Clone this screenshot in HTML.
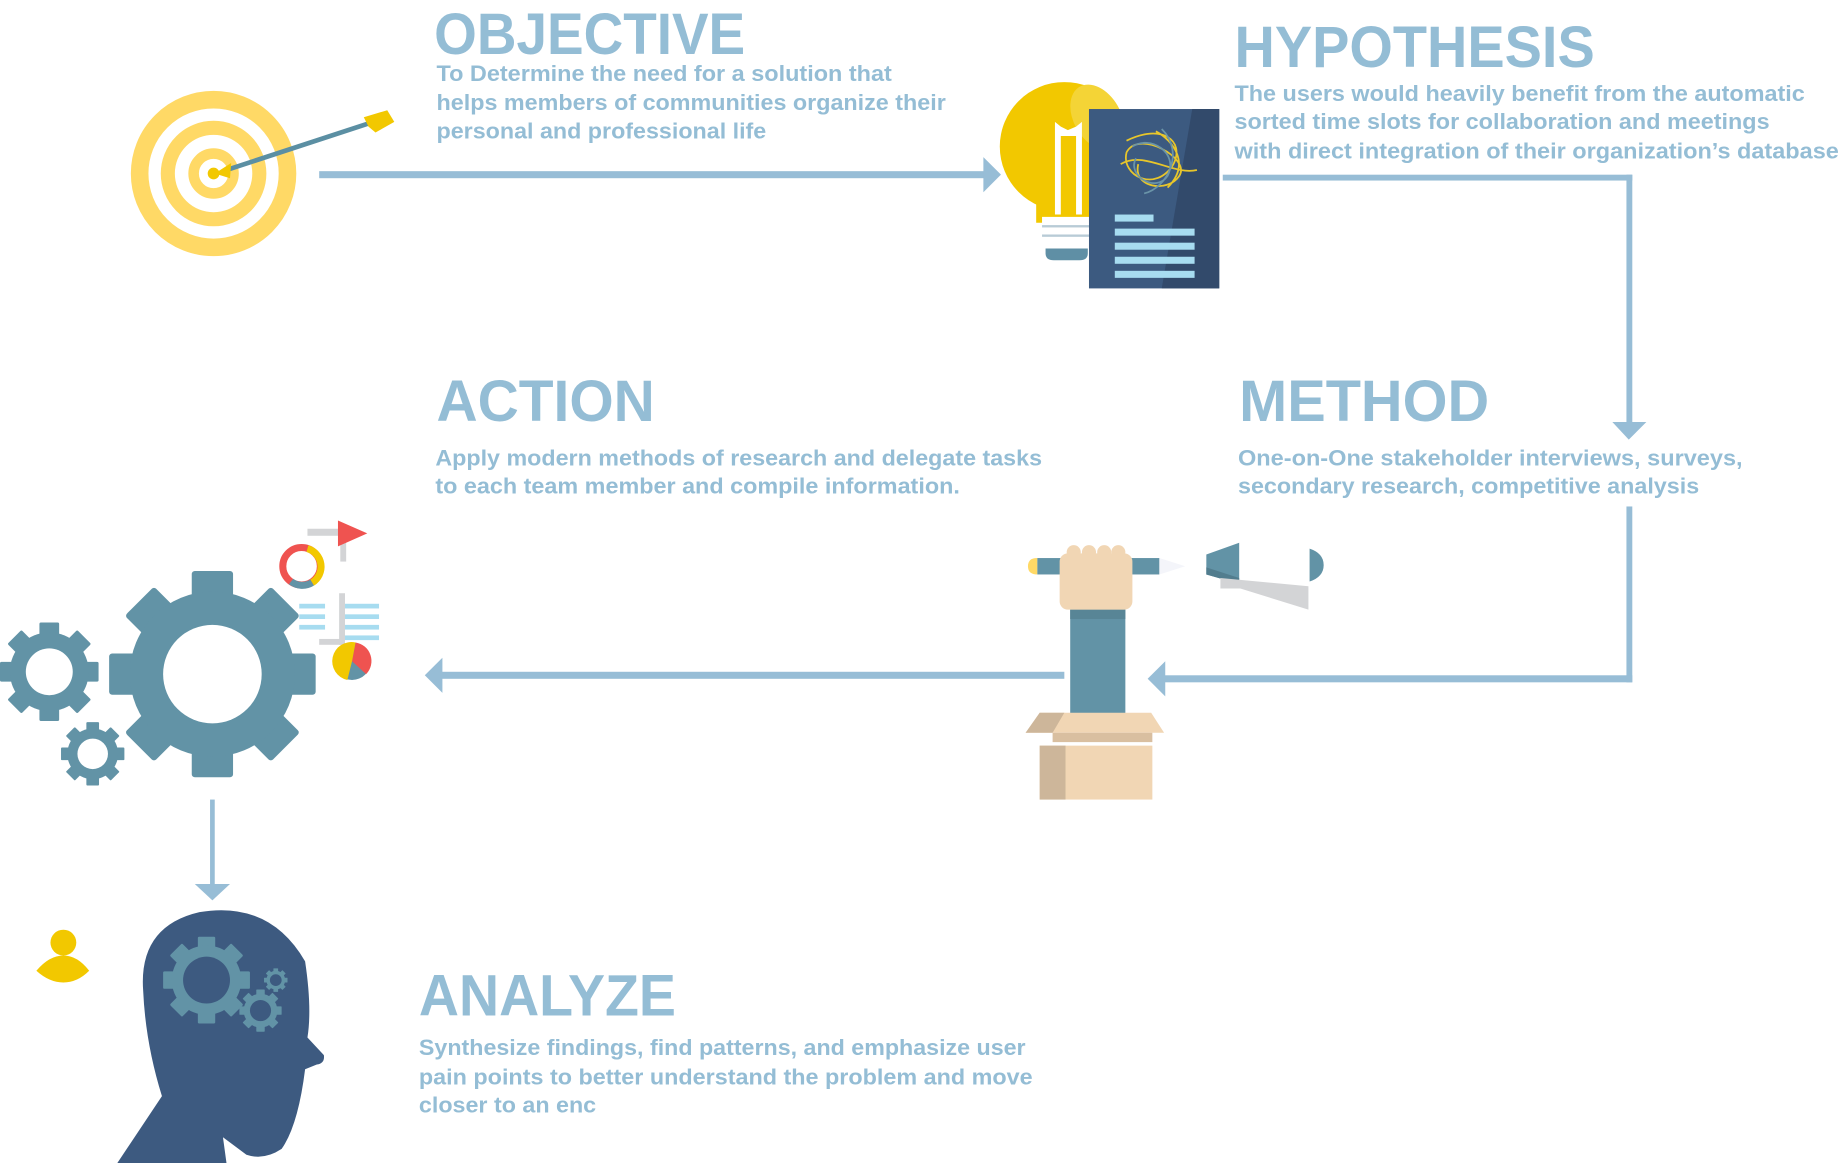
<!DOCTYPE html>
<html><head><meta charset="utf-8"><style>
html,body{margin:0;padding:0;background:#fff;}
svg{display:block;}
.h{font-family:"Liberation Sans Narrow","Liberation Sans",sans-serif;font-weight:bold;fill:#94bdd5;}
.t{font-family:"Liberation Sans Narrow","Liberation Sans",sans-serif;font-weight:bold;fill:#94bdd5;font-size:19px;}
</style></head><body>
<svg width="1840" height="1163" viewBox="0 0 1568 992" preserveAspectRatio="none" xmlns="http://www.w3.org/2000/svg">
<defs>
<g id="gear8">
  <rect x="-0.2" y="-1" width="0.4" height="2" rx="0.03"/>
  <rect x="-0.2" y="-1" width="0.4" height="2" rx="0.03" transform="rotate(45)"/>
  <rect x="-0.2" y="-1" width="0.4" height="2" rx="0.03" transform="rotate(90)"/>
  <rect x="-0.2" y="-1" width="0.4" height="2" rx="0.03" transform="rotate(135)"/>
  <circle r="0.8"/>
</g>
<clipPath id="bigc"><use href="#gear8" transform="translate(181,575) scale(88)"/></clipPath>
</defs>
<rect width="1568" height="992" fill="#fff"/>

<!-- Texts -->
<text class="h" x="370" y="46" font-size="50" textLength="265" lengthAdjust="spacingAndGlyphs">OBJECTIVE</text>
<text class="t" x="372" y="69" textLength="388" lengthAdjust="spacingAndGlyphs">To Determine the need for a solution that</text>
<text class="t" x="372" y="94" textLength="434" lengthAdjust="spacingAndGlyphs">helps members of communities organize their</text>
<text class="t" x="372" y="118" textLength="281" lengthAdjust="spacingAndGlyphs">personal and professional life</text>

<text class="h" x="1052" y="57" font-size="50" textLength="307" lengthAdjust="spacingAndGlyphs">HYPOTHESIS</text>
<text class="t" x="1052" y="86" textLength="486" lengthAdjust="spacingAndGlyphs">The users would heavily benefit from the automatic</text>
<text class="t" x="1052" y="110" textLength="456" lengthAdjust="spacingAndGlyphs">sorted time slots for collaboration and meetings</text>
<text class="t" x="1052" y="135" textLength="515" lengthAdjust="spacingAndGlyphs">with direct integration of their organization’s database</text>

<text class="h" x="372" y="359" font-size="50" textLength="186" lengthAdjust="spacingAndGlyphs">ACTION</text>
<text class="t" x="371" y="397" textLength="517" lengthAdjust="spacingAndGlyphs">Apply modern methods of research and delegate tasks</text>
<text class="t" x="371" y="421" textLength="447" lengthAdjust="spacingAndGlyphs">to each team member and compile information.</text>

<text class="h" x="1056" y="359" font-size="50" textLength="213" lengthAdjust="spacingAndGlyphs">METHOD</text>
<text class="t" x="1055" y="397" textLength="430" lengthAdjust="spacingAndGlyphs">One-on-One stakeholder interviews, surveys,</text>
<text class="t" x="1055" y="421" textLength="393" lengthAdjust="spacingAndGlyphs">secondary research, competitive analysis</text>

<text class="h" x="357" y="866" font-size="50" textLength="219" lengthAdjust="spacingAndGlyphs">ANALYZE</text>
<text class="t" x="357" y="900" textLength="517" lengthAdjust="spacingAndGlyphs">Synthesize findings, find patterns, and emphasize user</text>
<text class="t" x="357" y="925" textLength="523" lengthAdjust="spacingAndGlyphs">pain points to better understand the problem and move</text>
<text class="t" x="357" y="949" textLength="151" lengthAdjust="spacingAndGlyphs">closer to an enc</text>

<!-- Connectors -->
<g fill="#97bdd6" stroke="none">
  <rect x="272" y="146" width="570" height="6"/>
  <polygon points="838,134 853,149 838,164"/>
  <rect x="1042" y="149" width="349" height="5"/>
  <rect x="1386" y="149" width="5" height="215"/>
  <polygon points="1374,360 1403,360 1388,375"/>
  <rect x="1386" y="432" width="5" height="150"/>
  <rect x="990" y="576" width="401" height="6"/>
  <polygon points="993,564 978,579 993,594"/>
  <rect x="375" y="573" width="532" height="6"/>
  <polygon points="377,561 362,576 377,591"/>
  <rect x="179" y="682" width="4" height="75"/>
  <polygon points="166,754 196,754 181,768"/>
</g>

<!-- Target -->
<g fill="none" stroke="#ffd966">
  <circle cx="182" cy="148" r="63" stroke-width="15"/>
  <circle cx="182" cy="148" r="39" stroke-width="12"/>
  <circle cx="182" cy="148" r="17" stroke-width="9"/>
</g>
<circle cx="182" cy="148" r="5" fill="#f2c800"/>
<line x1="190" y1="146" x2="318" y2="104" stroke="#5b8fa3" stroke-width="4"/>
<polygon points="183,148 197,139 196,152" fill="#f2c800"/>
<polygon points="310,100 330,94 336,104 320,113 314,108" fill="#f2c800"/>

<!-- Bulb + doc -->
<circle cx="907" cy="125" r="55" fill="#f2c800"/>
<ellipse cx="935" cy="100" rx="20" ry="30" fill="#f4d436" transform="rotate(-30 935 100)"/>
<rect x="883" y="150" width="48" height="40" fill="#f2c800"/>
<path d="M899,104 L904,108 L910,111 L917,108 L922,104 L922,183 L917,183 L917,116 L904,116 L904,183 L899,183 Z" fill="#fff"/>
<rect x="888" y="185" width="40" height="25" fill="#fff"/>
<rect x="888" y="192" width="40" height="2" fill="#b8cbd6"/>
<rect x="888" y="200" width="40" height="2" fill="#b8cbd6"/>
<path d="M891,212 L927,212 L927,216 Q927,222 920,222 L898,222 Q891,222 891,216 Z" fill="#5f8fa5"/>
<rect x="928" y="93" width="111" height="153" fill="#3c5a80"/>
<polygon points="1016,93 1039,93 1039,246 990,246" fill="#324a6b"/>
<g fill="none" stroke-width="1.5">
<path d="M960,120 C990,105 1010,120 1000,140 C985,165 955,150 960,130 C970,110 1015,135 1005,150 C995,165 965,160 970,140 M985,112 C1000,120 1015,140 995,160 M955,140 C975,128 1000,150 1020,145" stroke="#e8c62a"/>
<path d="M965,125 C980,115 1005,130 995,150 C985,165 960,150 968,135 M990,110 C1010,130 995,160 975,165" stroke="#6a94a8"/>
</g>
<g fill="#a7dcf0">
  <rect x="950" y="183" width="33" height="6"/>
  <rect x="950" y="195" width="68" height="6"/>
  <rect x="950" y="207" width="68" height="6"/>
  <rect x="950" y="219" width="68" height="6"/>
  <rect x="950" y="231" width="68" height="6"/>
</g>

<!-- Hand with pencil & box -->
<rect x="886" y="636" width="96" height="46" fill="#f1d6b4"/>
<rect x="886" y="636" width="22" height="46" fill="#cdb69a"/>
<rect x="912" y="520" width="47" height="90" fill="#6293a6"/>
<rect x="912" y="520" width="47" height="8" fill="#588596"/>
<polygon points="886,608 981,608 992,625 874,625" fill="#f1d6b4"/>
<polygon points="886,608 907,608 897,625 874,625" fill="#cdb69a"/>
<rect x="897" y="625" width="85" height="8" fill="#d9bfa0"/>
<path d="M884,476 Q876,476 876,483 Q876,490 884,490 Z" fill="#ffd966"/>
<rect x="884" y="476" width="104" height="14" fill="#6293a6"/>
<polygon points="988,476 1010,483 988,490" fill="#f4f5fa"/>
<rect x="903" y="472" width="62" height="48" rx="7" fill="#f1d6b4"/>
<circle cx="915" cy="471" r="6" fill="#f1d6b4"/>
<circle cx="928" cy="471" r="6" fill="#f1d6b4"/>
<circle cx="941" cy="471" r="6" fill="#f1d6b4"/>
<circle cx="953" cy="471" r="6" fill="#f1d6b4"/>
<polygon points="1028,473 1056,463 1056,498 1028,490" fill="#6293a6"/>
<polygon points="1028,484 1056,493 1056,498 1028,490" fill="#527d8e"/>
<polygon points="1040,493 1115,500 1115,520 1057,502 1040,502" fill="#d3d4d6"/>
<path d="M1116,468 Q1128,472 1128,482 Q1128,492 1116,496 Z" fill="#6293a6"/>

<!-- Gears -->
<g fill="#6293a6">
  <use href="#gear8" transform="translate(181,575) scale(88)"/>
  <use href="#gear8" transform="translate(42,573) scale(42)"/>
  <use href="#gear8" transform="translate(79,643) scale(27)"/>
</g>
<polygon points="250,500 290,540 290,680 120,680" fill="#4f7a8c" opacity="0.45" clip-path="url(#bigc)"/>
<g fill="#fff">
  <circle cx="181" cy="575" r="42"/>
  <circle cx="42" cy="573" r="20"/>
  <circle cx="79" cy="643" r="13"/>
</g>
<!-- chart bits -->
<rect x="262" y="451" width="33" height="6" fill="#d3d4d6"/>
<rect x="290" y="451" width="5" height="28" fill="#d3d4d6"/>
<polygon points="288,444 313,455 288,466" fill="#ef5350"/>
<circle cx="257" cy="483" r="16" fill="none" stroke="#ef5350" stroke-width="6"/>
<path d="M262,468 A16,16 0 0 1 266,497" fill="none" stroke="#f2c800" stroke-width="6"/>
<path d="M266,497 A16,16 0 0 1 248,496" fill="none" stroke="#6293a6" stroke-width="6"/>
<g fill="#a7dcf0">
  <rect x="255" y="515" width="22" height="4"/><rect x="255" y="524" width="22" height="4"/><rect x="255" y="533" width="22" height="4"/>
  <rect x="290" y="515" width="33" height="4"/><rect x="290" y="524" width="33" height="4"/><rect x="290" y="533" width="33" height="4"/><rect x="290" y="542" width="33" height="4"/>
</g>
<rect x="289" y="506" width="5" height="44" fill="#d3d4d6"/>
<rect x="272" y="545" width="22" height="5" fill="#d3d4d6"/>
<circle cx="300" cy="564" r="16" fill="#6293a6"/>
<path d="M300,564 L303,548 A16,16 0 0 1 312,575 Z" fill="#ef5350"/>
<path d="M300,564 L296,580 A16,16 0 0 1 303,548 Z" fill="#f2c800"/>

<!-- Head -->
<path d="M100,992 L138,935 Q124,890 122,845 Q118,790 170,778 Q230,768 260,820 Q266,860 262,885 L276,900 Q277,907 270,908 L260,912 Q254,960 240,980 Q225,990 210,985 L190,970 L193,992 Z" fill="#3d5a80"/>
<g fill="#6293a6">
  <use href="#gear8" transform="translate(176,836) scale(37)"/>
  <use href="#gear8" transform="translate(222,862) scale(18)"/>
  <use href="#gear8" transform="translate(235,836) scale(10)"/>
</g>
<g fill="#3d5a80">
  <circle cx="176" cy="836" r="20"/>
  <circle cx="222" cy="862" r="9"/>
  <circle cx="235" cy="836" r="5"/>
</g>
<circle cx="54" cy="804" r="11" fill="#f2c800"/>
<path d="M31,828 Q42,815 54,815 Q66,815 76,828 Q66,838 54,838 Q42,838 31,828 Z" fill="#f2c800"/>
</svg>
</body></html>
